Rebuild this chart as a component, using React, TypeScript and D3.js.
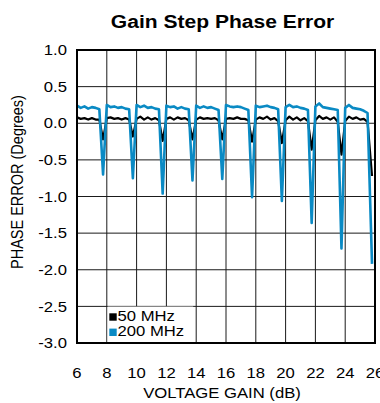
import React from "react";
import * as d3 from "d3";

const gainDb: number[] = [
  6.0, 6.25, 6.5, 6.75, 7.0, 7.25, 7.5, 7.75,
  8.0, 8.25, 8.5, 8.75, 9.0, 9.25, 9.5, 9.75,
  10.0, 10.25, 10.5, 10.75, 11.0, 11.25, 11.5, 11.75,
  12.0, 12.25, 12.5, 12.75, 13.0, 13.25, 13.5, 13.75,
  14.0, 14.25, 14.5, 14.75, 15.0, 15.25, 15.5, 15.75,
  16.0, 16.25, 16.5, 16.75, 17.0, 17.25, 17.5, 17.75,
  18.0, 18.25, 18.5, 18.75, 19.0, 19.25, 19.5, 19.75,
  20.0, 20.25, 20.5, 20.75, 21.0, 21.25, 21.5, 21.75,
  22.0, 22.25, 22.5, 22.75, 23.0, 23.25, 23.5, 23.75,
  24.0, 24.25, 24.5, 24.75, 25.0, 25.25, 25.5, 25.8,
];

const phase200MHz: number[] = [
  0.24, 0.21, 0.23, 0.2, 0.22, 0.21, 0.19, -0.7,
  0.25, 0.22, 0.23, 0.21, 0.22, 0.2, 0.19, -0.75,
  0.25, 0.22, 0.24, 0.21, 0.22, 0.2, 0.19, -0.96,
  0.24, 0.22, 0.23, 0.2, 0.22, 0.2, 0.19, -0.78,
  0.24, 0.21, 0.23, 0.21, 0.22, 0.2, 0.18, -0.76,
  0.25, 0.23, 0.22, 0.23, 0.22, 0.2, 0.18, -1.01,
  0.24, 0.22, 0.23, 0.24, 0.22, 0.21, 0.19, -1.06,
  0.22, 0.25, 0.22, 0.23, 0.21, 0.2, 0.18, -1.36,
  0.23, 0.27, 0.22, 0.21, 0.2, 0.19, 0.18, -1.71,
  0.21, 0.25, 0.21, 0.2, 0.19, 0.17, 0.14, -1.92,
];

const phase50MHz: number[] = [
  0.08, 0.06, 0.07, 0.05, 0.07, 0.05, 0.05, -0.22,
  0.07, 0.08, 0.06, 0.07, 0.05, 0.07, 0.05, -0.18,
  0.06, 0.09, 0.05, 0.08, 0.05, 0.07, 0.04, -0.24,
  0.06, 0.08, 0.05, 0.08, 0.06, 0.07, 0.04, -0.22,
  0.05, 0.08, 0.06, 0.07, 0.06, 0.07, 0.04, -0.22,
  0.06, 0.07, 0.06, 0.08, 0.06, 0.06, 0.04, -0.25,
  0.05, 0.08, 0.06, 0.09, 0.05, 0.07, 0.03, -0.27,
  0.04, 0.09, 0.05, 0.08, 0.04, 0.07, 0.03, -0.36,
  0.04, 0.1, 0.06, 0.08, 0.05, 0.08, 0.02, -0.43,
  0.03, 0.09, 0.06, 0.08, 0.05, 0.06, 0.02, -0.72,
];

const xTicks: number[] = [6, 8, 10, 12, 14, 16, 18, 20, 22, 24, 26];
const yTicks: number[] = [1.0, 0.5, 0.0, -0.5, -1.0, -1.5, -2.0, -2.5, -3.0];
const seriesNames: string[] = ["50 MHz", "200 MHz"];
const seriesColors: string[] = ["#000000", "#0a8ac4"];

const FONT = "'Liberation Sans', Arial, Helvetica, sans-serif";
const SX = 1.15;

function SText(props: {
  x: number;
  y: number;
  anchor?: string;
  size?: number;
  weight?: string;
  rotate?: boolean;
  dy?: string;
  children: React.ReactNode;
}) {
  const { x, y, anchor = "start", size = 14.5, weight = "normal", rotate = false, dy } = props;
  const tf = rotate
    ? `translate(${x},${y}) scale(${SX},1) rotate(-90)`
    : `translate(${x},${y}) scale(${SX},1)`;
  return (
    <text
      transform={tf}
      textAnchor={anchor}
      fontFamily={FONT}
      fontSize={size}
      fontWeight={weight}
      dy={dy}
      fill="#000"
    >
      {props.children}
    </text>
  );
}

const fmtY = (t: number) => t.toFixed(1);

export default function App() {
  const W = 380;
  const H = 403;
  const left = 77;
  const right = 375;
  const top = 50;
  const bottom = 343;

  const x = d3.scaleLinear().domain([6, 26]).range([left, right]);
  const y = d3.scaleLinear().domain([-3, 1]).range([bottom, top]);

  const line = d3
    .line<[number, number]>()
    .x((d) => x(d[0]))
    .y((d) => y(d[1]));

  const d50 = line(gainDb.map((g, i) => [g, phase50MHz[i]] as [number, number])) || "";
  const d200 = line(gainDb.map((g, i) => [g, phase200MHz[i]] as [number, number])) || "";

  return (
    <svg
      width={W}
      height={H}
      style={{ position: "absolute", left: 0, top: 0, background: "#fff" }}
    >
      <rect x={0} y={0} width={W} height={H} fill="#fff" />
      <SText x={222.5} y={28} anchor="middle" size={18.3} weight="bold">
        Gain Step Phase Error
      </SText>

      {/* grid */}
      {xTicks.map((t) => (
        <line key={"gx" + t} x1={x(t)} x2={x(t)} y1={top} y2={bottom} stroke="#1a1a1a" strokeWidth={1} />
      ))}
      {yTicks.map((t) => (
        <line key={"gy" + t} x1={left} x2={right} y1={y(t)} y2={y(t)} stroke="#1a1a1a" strokeWidth={1} />
      ))}

      {/* legend box */}
      <rect x={107.6} y={306.6} width={85.6} height={36} fill="#fff" />

      {/* series */}
      <path d={d50} fill="none" stroke={seriesColors[0]} strokeWidth={2.2} strokeLinejoin="round" />
      <path d={d200} fill="none" stroke={seriesColors[1]} strokeWidth={2.6} strokeLinejoin="round" />

      {/* frame */}
      <rect x={left} y={top} width={right - left} height={bottom - top} fill="none" stroke="#000" strokeWidth={2} />

      {/* y tick labels */}
      {yTicks.map((t) => (
        <SText key={"ly" + t} x={67} y={y(t)} anchor="end" dy="0.36em">
          {fmtY(t)}
        </SText>
      ))}
      {/* x tick labels */}
      {xTicks.map((t) => (
        <SText key={"lx" + t} x={x(t)} y={378} anchor="middle">
          {String(t)}
        </SText>
      ))}

      <SText x={222} y={398} anchor="middle">
        VOLTAGE GAIN (dB)
      </SText>
      <SText x={23} y={182} anchor="middle" rotate>
        PHASE ERROR (Degrees)
      </SText>

      {/* legend */}
      {seriesNames.map((n, i) => (
        <g key={n}>
          <rect x={109.3} y={313.3 + i * 15.3} width={7.4} height={7.4} fill={seriesColors[i]} />
          <SText x={117.5} y={320.7 + i * 15.3}>
            {n}
          </SText>
        </g>
      ))}
    </svg>
  );
}
